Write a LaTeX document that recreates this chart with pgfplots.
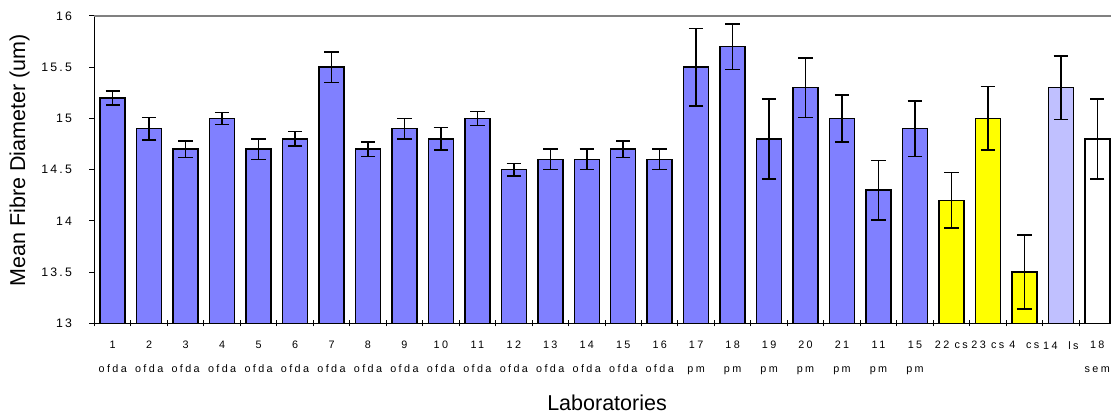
\documentclass[border=0pt]{standalone}
\usepackage{fontspec}
\setmainfont{Liberation Sans}
\newfontfamily\ytfont[LetterSpace=18]{Liberation Sans}
\newfontfamily\xtfont[LetterSpace=22]{Liberation Sans}
\usepackage{pgfplots}
\usepackage{pgfplotstable}
\pgfplotsset{compat=1.18}

\definecolor{ofdablue}{HTML}{8080FF}
\definecolor{csyellow}{HTML}{FFFF00}
\definecolor{lsblue}{HTML}{C0C0FF}

% mean fibre diameter and error half-width per laboratory
% (positions 0-15: OFDA, 16-22: projection microscope)
\pgfplotstableread{
x  y     err
0  15.2  0.07
1  14.9  0.11
2  14.7  0.08
3  15.0  0.06
4  14.7  0.10
5  14.8  0.07
6  15.5  0.15
7  14.7  0.07
8  14.9  0.10
9  14.8  0.11
10 15.0  0.07
11 14.5  0.06
12 14.6  0.10
13 14.6  0.10
14 14.7  0.08
15 14.6  0.10
16 15.5  0.38
17 15.7  0.22
18 14.8  0.39
19 15.3  0.29
20 15.0  0.23
21 14.3  0.29
22 14.9  0.27
}\ofdapm

% cotton-staple type (cs)
\pgfplotstableread{
x  y     err
23 14.2  0.27
24 15.0  0.31
25 13.5  0.36
}\cs

\pgfplotstableread{
x  y     err
26 15.3  0.31
}\ls

\pgfplotstableread{
x  y     err
27 14.8  0.39
}\sem

\pgfplotsset{
  labbar/.style={
    ybar, bar shift=0pt, draw=black, line width=1.5pt,
    error bars/y dir=both,
    error bars/y explicit,
    error bars/error bar style={black, line width=1.5pt},
    error bars/error mark options={rotate=90, black, line width=1.5pt, mark size=7.2pt},
  },
}

\begin{document}
\begin{tikzpicture}
\begin{axis}[
  at={(0,0)}, anchor=south west,
  scale only axis,
  width=1021pt, height=307.3pt,
  xmin=-0.5, xmax=27.5,
  ymin=13, ymax=16,
  axis x line*=bottom,
  axis y line*=left,
  axis line style={black, line width=1.4pt},
  ytick={13,13.5,14,14.5,15,15.5,16},
  /pgf/number format/assume math mode=true,
  yticklabel style={font=\ytfont\fontsize{12.3}{14}\selectfont, xshift=-14pt},
  ytick align=outside,
  major tick length=5pt,
  minor tick length=6pt,
  ytick style={black, line width=1pt},
  xtick={0,...,27},
  major x tick style={draw=none},
  minor xtick={-0.5,0.5,...,27.5},
  minor x tick style={black, line width=1pt},
  xtick align=center,
  xticklabels={{1\\ofda},{2\\ofda},{3\\ofda},{4\\ofda},{5\\ofda},{6\\ofda},
    {7\\ofda},{8\\ofda},{9\\ofda},{10\\ofda},{11\\ofda},{12\\ofda},{13\\ofda},
    {14\\ofda},{15\\ofda},{16\\ofda},{17\\pm},{18\\pm},{19\\pm},{20\\pm},
    {21\\pm},{11\\pm},{15\\pm},{22 cs},{23 cs},{4\ \ cs},{14\ \ ls},{18\\sem}},
  xticklabel style={font=\xtfont\fontsize{10.8}{24}\selectfont, align=center,
    anchor=north, yshift=-12pt},
  ylabel={Mean Fibre Diameter (um)},
  ylabel style={font=\fontsize{21.5}{24}\selectfont,
    at={(rel axis cs:0,0.53)}, anchor=center, yshift=75pt},
  xlabel={Laboratories},
  xlabel style={font=\fontsize{21.5}{24}\selectfont,
    at={(rel axis cs:0.502,0)}, anchor=base, yshift=-87.4pt},
  bar width=0.686,
  clip=false,
]
\addplot[labbar, fill=ofdablue] table[x=x, y=y, y error=err] {\ofdapm};
\addplot[labbar, fill=csyellow] table[x=x, y=y, y error=err] {\cs};
\addplot[labbar, fill=lsblue]   table[x=x, y=y, y error=err] {\ls};
\addplot[labbar, fill=white]    table[x=x, y=y, y error=err] {\sem};
\draw[color=gray, line width=1.6pt] (rel axis cs:0,1) -- (rel axis cs:1,1);
\end{axis}
\pgfresetboundingbox
\path[use as bounding box] (-94.5pt,-90.7pt) rectangle (1016.5pt,323.3pt);
\end{tikzpicture}
\end{document}
